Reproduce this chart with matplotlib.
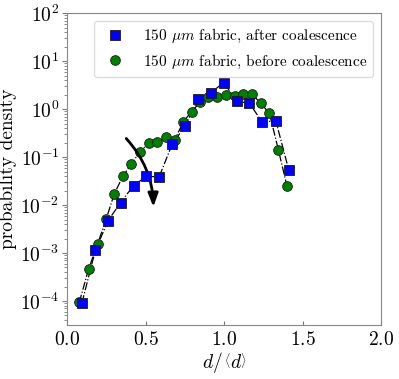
import matplotlib.pyplot as plt
import numpy as np

plt.rcParams['font.family'] = 'serif'
plt.rcParams['font.serif'] = ['cmr10']
plt.rcParams['mathtext.fontset'] = 'cm'
plt.rcParams['axes.formatter.use_mathtext'] = True

# Datos: despues de coalescencia (cuadrados azules)
x_after = [0.095, 0.180, 0.261, 0.341, 0.424, 0.505, 0.587, 0.670, 0.753,
           0.835, 0.918, 0.997, 1.082, 1.162, 1.242, 1.330, 1.412]
p_after = [9.1e-5, 1.13e-3, 4.7e-3, 0.0113, 0.0256, 0.0395, 0.039, 0.187, 0.449,
           1.62, 2.22, 3.58, 1.47, 1.33, 0.543, 0.57, 0.0543]

# Datos: antes de coalescencia (circulos verdes)
x_before = [0.078, 0.137, 0.195, 0.250, 0.301, 0.355, 0.409, 0.466, 0.520,
            0.576, 0.630, 0.686, 0.741, 0.794, 0.848, 0.901, 0.958, 1.013,
            1.070, 1.123, 1.179, 1.233, 1.289, 1.346, 1.400]
p_before = [9.35e-5, 4.6e-4, 1.56e-3, 5.2e-3, 0.0172, 0.0395, 0.0715, 0.131, 0.196,
            0.205, 0.261, 0.229, 0.552, 0.891, 1.41, 1.83, 1.83, 1.99,
            1.92, 2.08, 2.05, 1.33, 0.826, 0.142, 0.0256]

fig = plt.figure(figsize=(3.99, 3.79), dpi=100)
ax = fig.add_axes([0.168, 0.1425, 0.787, 0.8225])

# Lineas
ax.plot(x_after, p_after, color='black', linestyle='-.', linewidth=0.9)
ax.plot(x_before, p_before, color='black', linestyle='-.', linewidth=0.9)

# Marcadores
ax.plot(x_before, p_before, 'o', color='green', markeredgecolor='#1a1a1a',
        markeredgewidth=0.6, markersize=7,
        label=r'150 $\mu m$ fabric, before coalescence', zorder=3)
ax.plot(x_after, p_after, 's', color='blue', markeredgecolor='#1a1a1a',
        markeredgewidth=0.6, markersize=7,
        label=r'150 $\mu m$ fabric, after coalescence', zorder=4)

# Flecha
ax.annotate('', xy=(0.55, 0.008), xytext=(0.365, 0.27),
            arrowprops=dict(arrowstyle='-|>,head_length=0.8,head_width=0.3',
                            color='black', linewidth=2,
                            connectionstyle='arc3,rad=-0.2'))

ax.set_yscale('log')
ax.set_xlim(0, 2.0)
ax.set_ylim(3.16e-5, 100)
ax.set_xticks([0.0, 0.5, 1.0, 1.5, 2.0])
ax.set_xlabel(r'$d/\,\left\langle d\right\rangle$', fontsize=14, labelpad=1)
ax.set_ylabel('probability density', fontsize=14, labelpad=2)
ax.tick_params(axis='x', direction='in', length=3, pad=4)
ax.tick_params(axis='y', which='both', direction='out', pad=2)
ax.tick_params(which='both', labelsize=14, colors='#777777', labelcolor='black')
for s in ax.spines.values():
    s.set_color('#888888')

handles, labels = ax.get_legend_handles_labels()
ax.legend(handles[::-1], labels[::-1], loc='upper right', fontsize=11,
          framealpha=1, edgecolor='#dddddd')

plt.savefig('out.png', dpi=100)
